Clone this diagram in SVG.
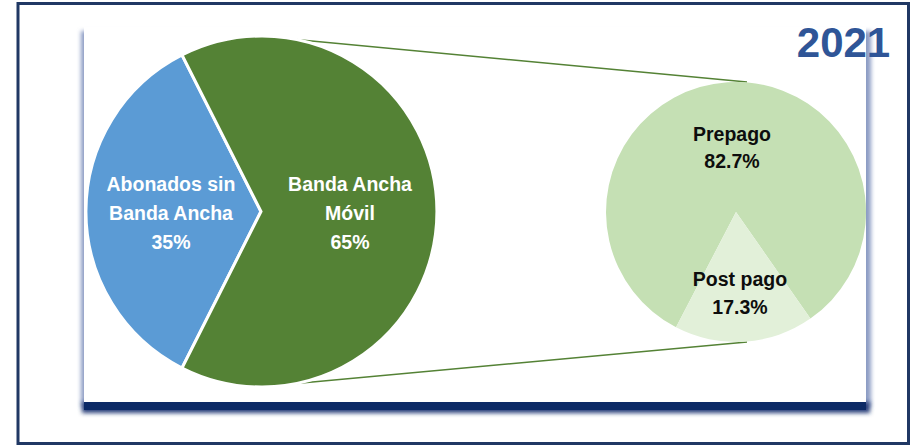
<svg xmlns="http://www.w3.org/2000/svg" width="910" height="445" viewBox="0 0 910 445">
  <defs>
    <filter id="soft" x="-5%" y="-5%" width="110%" height="110%">
      <feGaussianBlur stdDeviation="2"/>
    </filter>
    <filter id="soft2" x="-5%" y="-80%" width="110%" height="260%">
      <feGaussianBlur stdDeviation="2"/>
    </filter>
  </defs>
  <style>
    .lbl { font-family: "Liberation Sans", Arial, sans-serif; font-weight: bold; font-size: 19.5px; text-anchor: middle; }
    .w { fill: #ffffff; }
    .k { fill: #0d0d0d; }
    .slice { stroke: #ffffff; stroke-width: 3; stroke-linejoin: miter; }
    .conn { stroke: #548235; stroke-width: 1.5; fill: none; }
  </style>

  <rect x="0" y="0" width="910" height="445" fill="#ffffff"/>

  <g id="frame">
    <rect x="18" y="3.5" width="890.5" height="440" fill="#ffffff" stroke="#203864" stroke-width="3"/>
  </g>

  <g id="chart-area">
    <rect x="81" y="31" width="790" height="376" fill="#8c9cc4" filter="url(#soft)"/>
    <rect x="82" y="402" width="788" height="11" fill="#2a3f7a" filter="url(#soft2)"/>
    <rect x="84" y="402" width="782" height="8" fill="#0c2a66"/>
    <rect x="84" y="27" width="782" height="375" fill="#ffffff"/>
  </g>

  <g id="connectors">
    <line class="conn" x1="280" y1="38" x2="747" y2="82"/>
    <line class="conn" x1="280" y1="385" x2="747" y2="342"/>
  </g>

  <g id="slice-abonados">
    <path class="slice" fill="#5b9bd5" d="M261,211.5 L182,55 A175.5,175.5 0 0 0 182,368 Z"/>
    <text class="lbl w" x="171" y="190.7">Abonados sin</text>
    <text class="lbl w" x="171" y="220">Banda Ancha</text>
    <text class="lbl w" x="171" y="249">35%</text>
  </g>

  <g id="slice-banda-ancha-movil">
    <path class="slice" fill="#548235" d="M261,211.5 L182,368 A175.5,175.5 0 1 0 182,55 Z"/>
    <text class="lbl w" x="350" y="190.7">Banda Ancha</text>
    <text class="lbl w" x="350" y="220">Móvil</text>
    <text class="lbl w" x="350" y="249">65%</text>
  </g>

  <g id="slice-prepago">
    <path fill="#c5e0b4" d="M736,212 L810.4,318.6 A130,130 0 1 0 676,327.3 Z"/>
    <text class="lbl k" x="732" y="140.7">Prepago</text>
    <text class="lbl k" x="732" y="168.3">82.7%</text>
  </g>

  <g id="slice-post-pago">
    <path fill="#e2f0d9" d="M736,212 L810.4,318.6 A130,130 0 0 1 676,327.3 Z"/>
    <text class="lbl k" x="740" y="285.7">Post pago</text>
    <text class="lbl k" x="740" y="314.3">17.3%</text>
  </g>

  <g id="title">
    <text x="843.5" y="57" font-family="Liberation Sans, Arial, sans-serif" font-weight="bold" font-size="42" text-anchor="middle" fill="#2f5597">2021</text>
  </g>
</svg>
